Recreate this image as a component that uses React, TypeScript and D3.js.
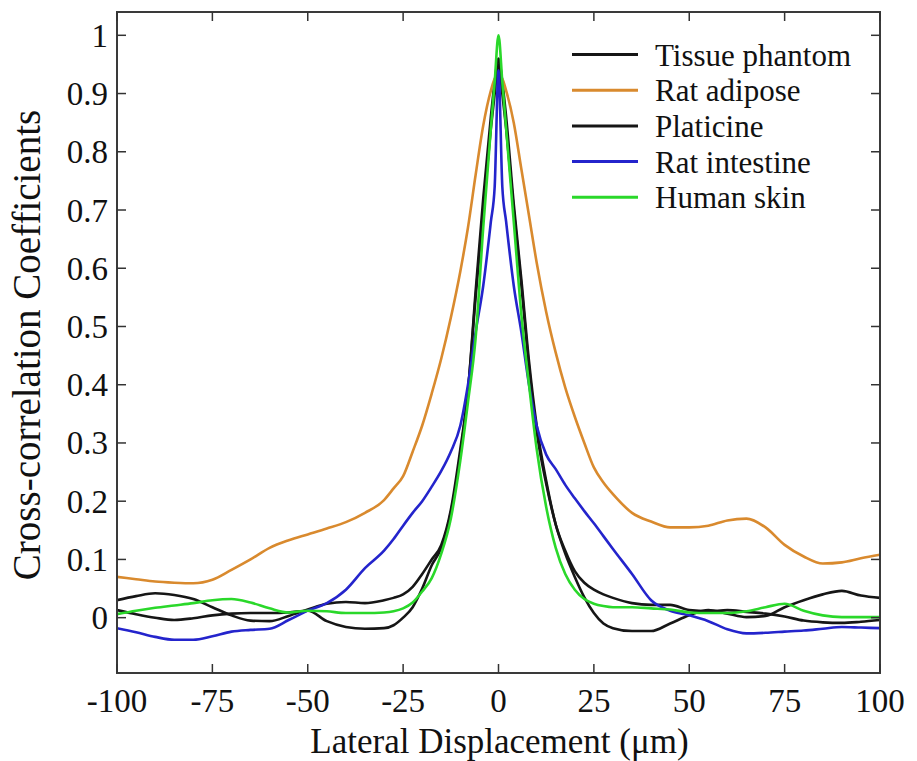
import React from "react";
import * as d3 from "d3";

const X = [-100,-95,-90,-85,-80,-75,-70,-65,-60,-55,-50,-45,-40,-35,-30,-27.5,-25,-22.5,-20,-17.5,-15,-12.5,-10,-8,-6,-4,-2,-1,0,1,2,4,6,8,10,12.5,15,17.5,20,22.5,25,27.5,30,35,40,45,50,55,60,65,70,75,80,85,90,95,100];

const tissuePhantom = [0.030,0.037,0.042,0.039,0.032,0.018,0.004,-0.005,-0.006,0.003,0.014,0.024,0.027,0.025,0.030,0.034,0.040,0.053,0.075,0.10,0.125,0.185,0.29,0.39,0.56,0.72,0.86,0.92,0.96,0.92,0.86,0.71,0.58,0.44,0.33,0.235,0.16,0.115,0.08,0.06,0.048,0.04,0.034,0.025,0.022,0.022,0.013,0.011,0.013,0.010,0.007,0.002,-0.005,-0.008,-0.009,-0.007,-0.004];
const ratAdipose = [0.070,0.066,0.062,0.060,0.059,0.065,0.082,0.100,0.120,0.133,0.143,0.153,0.164,0.180,0.202,0.222,0.243,0.285,0.33,0.385,0.445,0.515,0.595,0.67,0.76,0.845,0.905,0.925,0.93,0.925,0.905,0.85,0.77,0.69,0.61,0.525,0.455,0.395,0.345,0.30,0.258,0.232,0.212,0.18,0.165,0.155,0.155,0.158,0.167,0.170,0.155,0.125,0.105,0.093,0.095,0.102,0.108];
const platicine = [0.013,0.006,0.000,-0.004,-0.001,0.004,0.007,0.008,0.008,0.009,0.012,-0.006,-0.016,-0.019,-0.018,-0.013,0.000,0.018,0.05,0.09,0.12,0.18,0.28,0.39,0.55,0.70,0.84,0.90,0.95,0.90,0.84,0.70,0.57,0.43,0.32,0.23,0.16,0.11,0.07,0.035,0.008,-0.010,-0.018,-0.023,-0.023,-0.010,0.004,0.013,0.007,0.001,0.003,0.018,0.030,0.040,0.046,0.038,0.034];
const ratIntestine = [-0.018,-0.025,-0.033,-0.038,-0.038,-0.032,-0.024,-0.021,-0.019,-0.004,0.012,0.025,0.048,0.085,0.115,0.135,0.158,0.18,0.20,0.225,0.252,0.285,0.33,0.40,0.49,0.57,0.68,0.74,0.94,0.74,0.68,0.57,0.49,0.40,0.33,0.28,0.255,0.228,0.205,0.183,0.162,0.14,0.118,0.075,0.03,0.012,0.004,-0.006,-0.02,-0.027,-0.026,-0.024,-0.022,-0.019,-0.016,-0.017,-0.018];
const humanSkin = [0.006,0.012,0.017,0.021,0.025,0.030,0.032,0.026,0.016,0.009,0.012,0.011,0.008,0.008,0.009,0.011,0.016,0.026,0.045,0.068,0.11,0.17,0.27,0.37,0.48,0.67,0.84,0.92,1.0,0.92,0.84,0.68,0.52,0.40,0.29,0.19,0.12,0.075,0.048,0.032,0.024,0.02,0.018,0.018,0.016,0.014,0.009,0.008,0.008,0.011,0.018,0.024,0.012,0.004,0.001,0.001,0.001];

const seriesNames = ["Tissue phantom", "Rat adipose", "Platicine", "Rat intestine", "Human skin"];
const seriesValues = [tissuePhantom, ratAdipose, platicine, ratIntestine, humanSkin];
const seriesColors = ["#161616", "#d98a2e", "#161616", "#2424cc", "#2ad82a"];

const xTicks = [-100, -75, -50, -25, 0, 25, 50, 75, 100];
const yTicks = [0, 0.1, 0.2, 0.3, 0.4, 0.5, 0.6, 0.7, 0.8, 0.9, 1];
const yTickLabels = ["0", "0.1", "0.2", "0.3", "0.4", "0.5", "0.6", "0.7", "0.8", "0.9", "1"];

const W = 917, H = 761;
const L = 117, R = 880, T = 12, B = 673;
const FONT = '"Liberation Serif", "DejaVu Serif", serif';

export default function App() {
  const x = d3.scaleLinear().domain([-100, 100]).range([L, R]);
  const y = d3.scaleLinear().domain([-0.095, 1.04]).range([B, T]);
  const line = d3.line<number>().x((_, i) => x(X[i])).y((d) => y(d)).curve(d3.curveMonotoneX);
  const tick = 9;
  const ts = { fontFamily: FONT };
  return (
    <svg width={W} height={H} style={{ position: "absolute", left: 0, top: 0, background: "#fff", fontFamily: FONT }}>
      <rect x={0} y={0} width={W} height={H} fill="#fff" />
      <defs>
        <clipPath id="clip"><rect x={L} y={T} width={R - L} height={B - T} /></clipPath>
      </defs>
      <g clipPath="url(#clip)">
        {seriesValues.map((vals, k) => (
          <path key={k} d={line(vals) || ""} fill="none" stroke={seriesColors[k]} strokeWidth={2.6} strokeLinejoin="round" />
        ))}
      </g>
      <rect x={L} y={T} width={R - L} height={B - T} fill="none" stroke="#3a3a3a" strokeWidth={2} />
      {xTicks.map((t) => (
        <g key={"x" + t}>
          <line x1={x(t)} x2={x(t)} y1={B} y2={B - tick} stroke="#333" strokeWidth={1.5} />
          <line x1={x(t)} x2={x(t)} y1={T} y2={T + tick} stroke="#333" strokeWidth={1.5} />
          <text x={x(t)} y={712} textAnchor="middle" fontSize={33} fill="#111" style={ts}>{t}</text>
        </g>
      ))}
      {yTicks.map((t, i) => (
        <g key={"y" + t}>
          <line x1={L} x2={L + tick} y1={y(t)} y2={y(t)} stroke="#333" strokeWidth={1.5} />
          <line x1={R} x2={R - tick} y1={y(t)} y2={y(t)} stroke="#333" strokeWidth={1.5} />
          <text x={108} y={y(t) + 11.5} textAnchor="end" fontSize={33} fill="#111" style={ts}>{yTickLabels[i]}</text>
        </g>
      ))}
      <text x={(L + R) / 2 + 1} y={753} textAnchor="middle" fontSize={35} fill="#111" style={ts}>Lateral Displacement (μm)</text>
      <text transform={`translate(40,345) rotate(-90)`} textAnchor="middle" fontSize={39} fill="#111" style={ts}>Cross-correlation Coefficients</text>
      {seriesNames.map((n, i) => {
        const ry = 54.5 + i * 35.7;
        return (
          <g key={n}>
            <line x1={572} x2={638} y1={ry} y2={ry} stroke={seriesColors[i]} strokeWidth={3} />
            <text x={655} y={ry + 11} fontSize={31} fill="#111" style={ts}>{n}</text>
          </g>
        );
      })}
    </svg>
  );
}
